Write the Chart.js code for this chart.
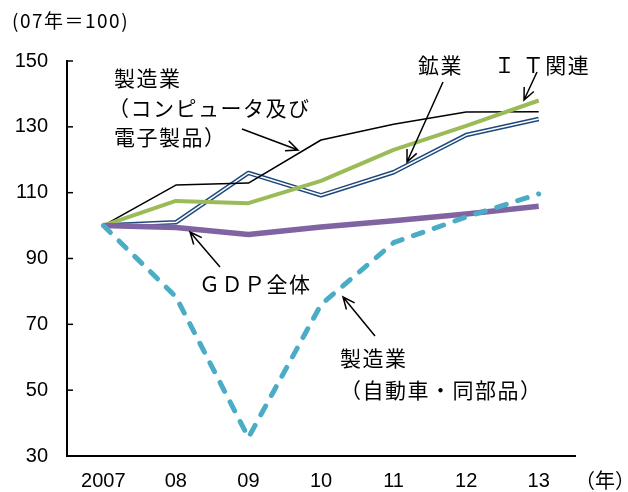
<!DOCTYPE html>
<html>
<head>
<meta charset="utf-8">
<script src="https://cdn.jsdelivr.net/npm/chart.js@4/dist/chart.umd.min.js"></script>
<style>
  html, body { margin: 0; padding: 0; background: #fff; }
  #wrap { width: 628px; height: 492px; }
</style>
</head>
<body>
<div id="wrap"><canvas id="myChart" width="628" height="492"></canvas></div>
<script>
// index, 2007 = 100
const years = ['2007', '08', '09', '10', '11', '12', '13'];
const computers = [100, 112.3, 112.9, 126.0, 130.8, 134.5, 134.6];
const mining = [100, 101.0, 116.0, 109.2, 116.2, 127.5, 132.4];
const itRelated = [100, 107.5, 106.8, 113.6, 123.0, 130.3, 138.0];
const gdp = [100, 99.4, 97.3, 99.6, 101.5, 103.5, 105.9];
const autos = [100, 78.4, 35.6, 76.0, 94.8, 102.6, 109.6];
const yTicks = [30, 50, 70, 90, 110, 130, 150];

const jpFont = '"Noto Sans CJK JP", "Noto Sans", sans-serif';
const numFont = '"Liberation Sans Narrow", "Liberation Sans", Arial, sans-serif';

// callout labels + arrows
const notes = [
    { text: '製造業', x: 114, y: 78 },
    { text: '（コンピュータ及び', x: 108, y: 108 },
    { text: '電子製品）', x: 114, y: 137 },
    { text: 'ＧＤＰ全体', x: 199, y: 284 },
    { text: '鉱業', x: 418, y: 65 },
    { text: 'Ｉ Ｔ関連', x: 494, y: 65 },
    { text: '製造業', x: 340, y: 358 },
    { text: '（自動車・同部品）', x: 340, y: 390 }
];
const arrows = [
    [242, 129, 298, 150],
    [220, 267, 190, 232],
    [443, 82, 407, 162],
    [537, 72, 524, 100],
    [375, 336, 343, 297]
];

function drawArrow(ctx, x1, y1, x2, y2) {
    const ang = Math.atan2(y2 - y1, x2 - x1);
    const len = 13, spread = 0.42;
    ctx.beginPath();
    ctx.moveTo(x1, y1);
    ctx.lineTo(x2, y2);
    ctx.moveTo(x2 - len * Math.cos(ang - spread), y2 - len * Math.sin(ang - spread));
    ctx.lineTo(x2, y2);
    ctx.lineTo(x2 - len * Math.cos(ang + spread), y2 - len * Math.sin(ang + spread));
    ctx.stroke();
}

const notesPlugin = {
    id: 'notesPlugin',
    afterDraw: (chart) => {
        const ctx = chart.ctx;
        const area = chart.chartArea;
        const yAxis = chart.scales.y;
        ctx.save();
        // inward tick marks on the y axis
        ctx.strokeStyle = '#000';
        ctx.lineWidth = 1.5;
        yAxis.ticks.forEach((t, i) => {
            const py = yAxis.getPixelForTick(i);
            ctx.beginPath();
            ctx.moveTo(area.left, py);
            ctx.lineTo(area.left + 6, py);
            ctx.stroke();
        });

        ctx.fillStyle = '#000';
        ctx.textBaseline = 'middle';
        ctx.textAlign = 'left';
        ctx.font = '21px ' + jpFont;
        ctx.letterSpacing = '1.5px';
        notes.forEach(n => ctx.fillText(n.text, n.x, n.y));

        ctx.font = '19px ' + jpFont;
        ctx.fillText('(07年＝100)', 12, 21);
        ctx.letterSpacing = '0px';
        ctx.font = '20px ' + jpFont;
        ctx.fillText('（年）', 575, 480);

        ctx.lineWidth = 1.5;
        arrows.forEach(a => drawArrow(ctx, a[0], a[1], a[2], a[3]));
        ctx.restore();
    }
};

function line(label, data, color, width, extra) {
    return Object.assign({
        label: label,
        data: data,
        borderColor: color,
        borderWidth: width,
        pointRadius: 0,
        tension: 0,
        fill: false,
        borderJoinStyle: 'round'
    }, extra || {});
}

new Chart(document.getElementById('myChart').getContext('2d'), {
    type: 'line',
    data: {
        labels: years,
        // first entry ends up on top
        datasets: [
            line('製造業（自動車・同部品）', autos, '#4BACC6', 5, { borderDash: [10, 12], borderCapStyle: 'round' }),
            line('GDP全体', gdp, '#8064A2', 5.5),
            line('IT関連', itRelated, '#9BBB59', 4),
            line('製造業（コンピュータ及び電子製品）', computers, '#000000', 1.5),
            line('鉱業', mining, '#FFFFFF', 1.5),
            line('鉱業', mining, '#1F497D', 4.5)
        ]
    },
    options: {
        responsive: false,
        animation: false,
        layout: { padding: { top: 61, right: 53, left: 0, bottom: 0 } },
        plugins: {
            legend: { display: false },
            tooltip: { enabled: false }
        },
        scales: {
            x: {
                type: 'category',
                offset: true,
                grid: { display: false, drawTicks: false },
                border: { display: true, color: '#000', width: 2 },
                ticks: {
                    color: '#000',
                    padding: 13,
                    maxRotation: 0,
                    font: { family: numFont, size: 20 }
                },
                afterFit: function (scale) { scale.height = 36; }
            },
            y: {
                min: 30,
                max: 150,
                grid: { display: false, drawTicks: false },
                border: { display: true, color: '#000', width: 2 },
                afterBuildTicks: function (scale) {
                    scale.ticks = yTicks.map(v => ({ value: v }));
                },
                ticks: {
                    color: '#000',
                    padding: 19,
                    font: { family: numFont, size: 20 }
                },
                afterFit: function (scale) { scale.width = 67; }
            }
        }
    },
    plugins: [notesPlugin]
});
</script>
</body>
</html>
